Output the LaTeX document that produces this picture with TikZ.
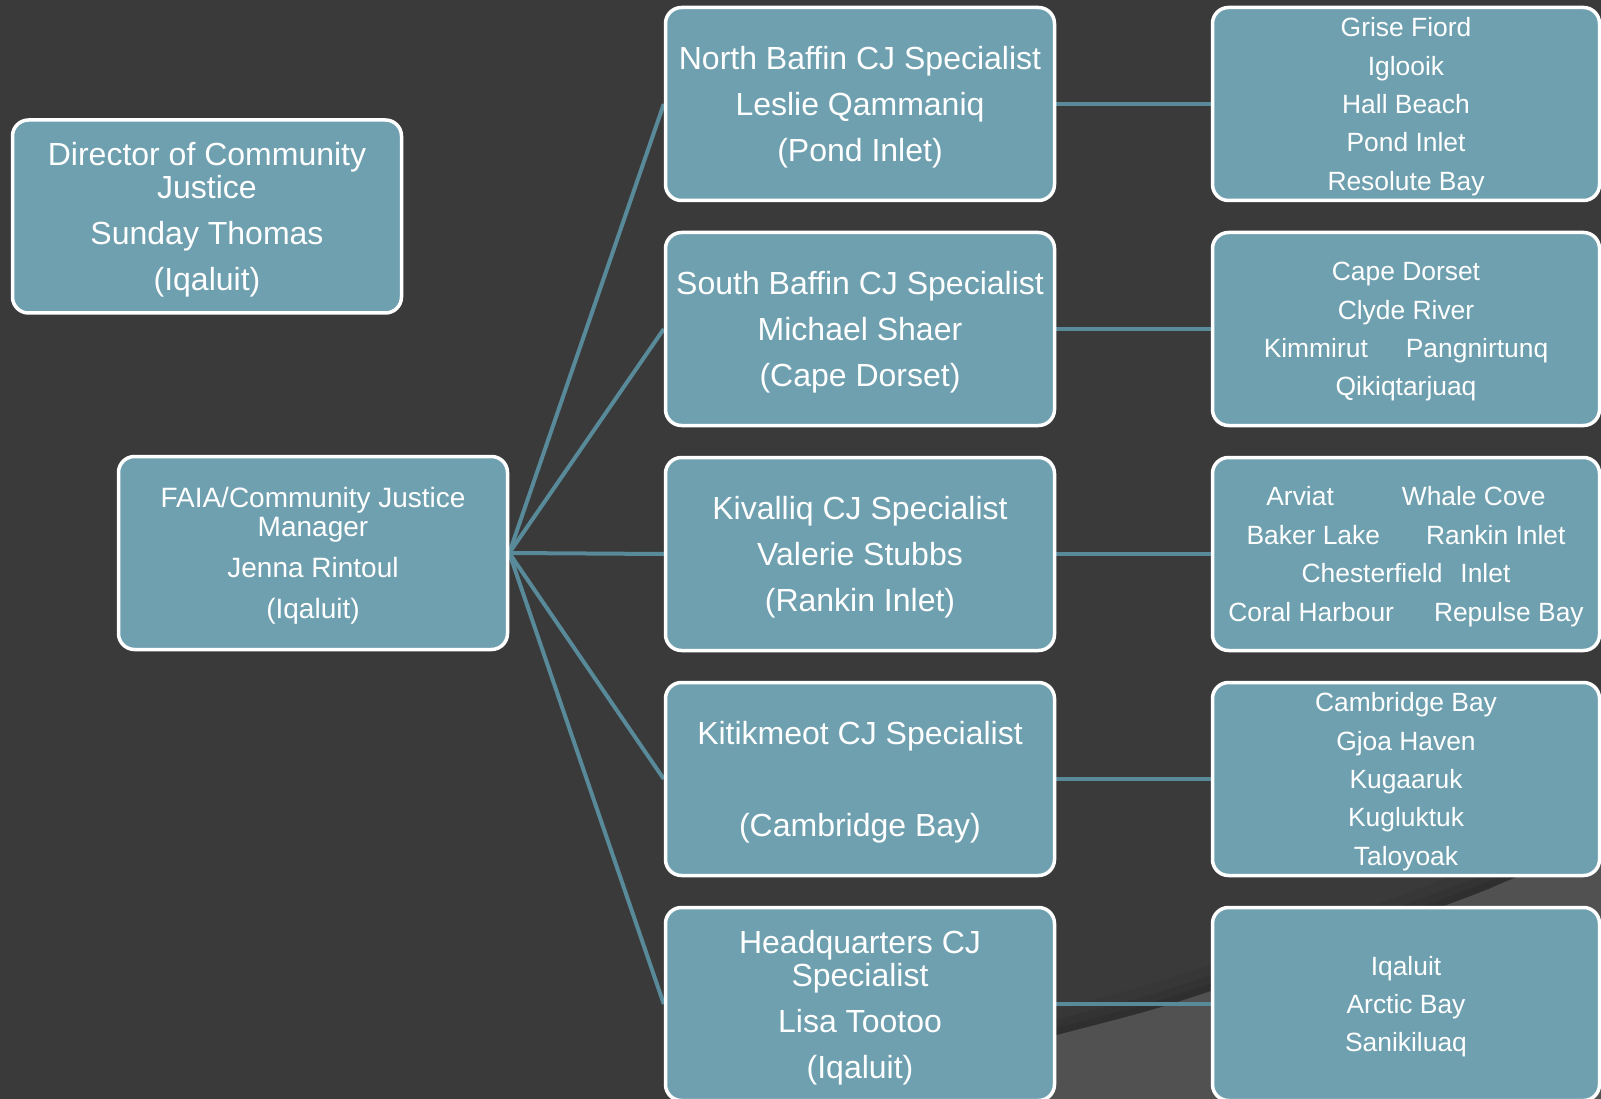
\documentclass[tikz,border=0pt]{standalone}
\usepackage{fontspec}
\setmainfont{Liberation Sans}
\definecolor{bgdark}{RGB}{58,58,58}
\definecolor{bglight}{RGB}{81,81,81}
\definecolor{boxfill}{RGB}{111,160,175}
\definecolor{linkcol}{RGB}{88,138,153}
\pgfdeclarelayer{back}
\pgfdeclarelayer{links}
\pgfsetlayers{back,links,main}
\tikzset{
  orgbox/.style={draw=white, line width=3.5pt, fill=boxfill, rounded corners=16pt,
    text=white, align=center, inner sep=0pt, text depth=0pt},
  midbox/.style={orgbox, minimum width=389pt, minimum height=193pt,
    font=\fontsize{32}{33}\selectfont},
  placebox/.style={orgbox, minimum width=387pt, minimum height=193pt,
    font=\fontsize{26.4}{38.4}\selectfont},
  leftbox/.style={orgbox, minimum width=389pt, minimum height=193pt},
  link/.style={draw=linkcol, line width=4pt},
  swoosh/.style={black, line cap=round},
}
\def\swooshpts{(780,1105) (1057,1035) (1208,992) (1452,903) (1512,879) (1601,843)}
\begin{document}
\begin{tikzpicture}[x=1pt,y=-1pt]
\useasboundingbox (0,0) rectangle (1601,1099);
\clip (0,0) rectangle (1601,1099);
\begin{pgfonlayer}{back}
  \fill[bgdark] (0,0) rectangle (1601,1099);
  \draw[swoosh, opacity=0.05, line width=50pt] plot[smooth, tension=0.6] coordinates {(780,1105) (1057,1035) (1208,992) (1452,903) (1512,879) (1601,843)};
  \draw[swoosh, opacity=0.06, line width=30pt] plot[smooth, tension=0.6] coordinates {(780,1105) (1057,1035) (1208,992) (1452,903) (1512,879) (1601,843)};
  \draw[swoosh, opacity=0.07, line width=14pt] plot[smooth, tension=0.6] coordinates {(780,1105) (1057,1035) (1208,992) (1452,903) (1512,879) (1601,843)};
  \fill[bglight] plot[smooth, tension=0.6] coordinates {(780,1105) (1057,1035) (1208,992) (1452,903) (1512,879) (1601,843)}
    -- (1601,1110) -- (780,1110) -- cycle;
\end{pgfonlayer}

\node[leftbox, font=\fontsize{32}{33}\selectfont] (dir) at (207,216.5)
  {Director of Community\\Justice\\[13pt]Sunday Thomas\\[13pt](Iqaluit)};
\node[leftbox, font=\fontsize{28}{29}\selectfont] (faia) at (313,553)
  {FAIA/Community Justice\\Manager\\[12pt]Jenna Rintoul\\[12pt](Iqaluit)};

\node[midbox] (nb) at (860,104)
  {North Baffin CJ Specialist\\[13pt]Leslie Qammaniq\\[13pt](Pond Inlet)};
\node[midbox] (sb) at (860,329)
  {South Baffin CJ Specialist\\[13pt]Michael Shaer\\[13pt](Cape Dorset)};
\node[midbox] (kiv) at (860,554)
  {Kivalliq CJ Specialist\\[13pt]Valerie Stubbs\\[13pt](Rankin Inlet)};
\node[midbox] (kit) at (860,779)
  {Kitikmeot CJ Specialist\\[13pt]\mbox{}\\[13pt](Cambridge Bay)};
\node[midbox] (hq) at (860,1004)
  {Headquarters CJ\\Specialist\\[13pt]Lisa Tootoo\\[13pt](Iqaluit)};

\node[placebox] (nbr) at (1406,104)
  {Grise Fiord\\Iglooik\\Hall Beach\\Pond Inlet\\Resolute Bay};
\node[placebox] (sbr) at (1406,329)
  {Cape Dorset\\Clyde River\\Kimmirut\hspace{38pt}Pangnirtunq\\Qikiqtarjuaq};
\node[placebox] (kivr) at (1406,554)
  {Arviat\hspace{68pt}Whale Cove\\Baker Lake\hspace{46pt}Rankin Inlet\\Chesterfield\hspace{18pt}Inlet\\Coral Harbour\hspace{40pt}Repulse Bay};
\node[placebox] (kitr) at (1406,779)
  {Cambridge Bay\\Gjoa Haven\\Kugaaruk\\Kugluktuk\\Taloyoak};
\node[placebox] (hqr) at (1406,1004)
  {Iqaluit\\Arctic Bay\\Sanikiluaq};

\begin{pgfonlayer}{links}
  \foreach \m/\r in {nb/nbr, sb/sbr, kiv/kivr, kit/kitr, hq/hqr} {
    \draw[link] (faia.east) -- (\m.west);
    \draw[link] (\m.east) -- (\r.west);
  }
\end{pgfonlayer}
\end{tikzpicture}
\end{document}
